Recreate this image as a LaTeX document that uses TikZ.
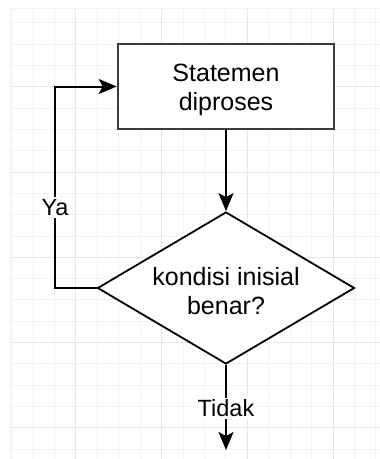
\documentclass[tikz,border=0pt]{standalone}
\usepackage{fontspec}
\setmainfont{Liberation Sans}
\usetikzlibrary{shapes.geometric,arrows.meta}
\definecolor{gridminor}{HTML}{F2F2F2}
\definecolor{gridmajor}{HTML}{E6E6E6}
\definecolor{boxline}{HTML}{3C3C3C}
\tikzset{
  flowbox/.style={rectangle, draw=boxline, line width=2.6pt, fill=white,
    minimum width=216pt, minimum height=85pt},
  decision/.style={diamond, aspect=1.69, inner sep=0pt, draw=black,
    line width=1.8pt, fill=white, minimum width=257pt, minimum height=152pt},
  shapetext/.style={align=center, inner sep=0pt,
    font=\fontsize{25}{29}\selectfont},
  flow/.style={draw=black, line width=2pt,
    -{Stealth[length=18pt, width=15pt, inset=4pt]}},
  branchlabel/.style={fill=white, inner sep=2pt,
    font=\fontsize{23.5}{26}\selectfont}
}
\begin{document}
\begin{tikzpicture}[x=1pt, y=-1pt]
  \useasboundingbox (0,0) rectangle (380,459);
  \fill[white] (0,0) rectangle (380,459);
  % background grid
  \foreach \k in {0,...,17}
    \draw[gridminor, line width=1pt] (11.7+21.42*\k, 8) -- (11.7+21.42*\k, 459);
  \foreach \k in {0,...,20}
    \draw[gridminor, line width=1pt] (10, 22.7+21.33*\k) -- (380, 22.7+21.33*\k);
  \foreach \k in {3,7,11,15}
    \draw[gridmajor, line width=1pt] (11.7+21.42*\k, 8) -- (11.7+21.42*\k, 459);
  \foreach \k in {3,7,11,15,19}
    \draw[gridmajor, line width=1pt] (10, 22.7+21.33*\k) -- (380, 22.7+21.33*\k);
  \draw[gridminor, line width=1pt] (10,459) -- (10,8) -- (380,8);

  % flowchart shapes and their texts
  \node[flowbox] (stmt) at (226,86.5) {};
  \node[shapetext] (stmttext) at (226,89.5) {Statemen\\diproses};
  \node[decision] (cond) at (226,288) {};
  \node[shapetext] (condtext) at (226,291) {kondisi inisial\\benar?};
  \coordinate (loop) at (55,288);
  \coordinate (exit) at (226,450);

  % connectors
  \draw[flow] (stmt.south) -- (cond.north);
  \draw[flow] (cond.west) -- (loop)
    -- node[branchlabel, pos=0.4] {Ya} (loop |- stmt.west) -- (stmt.west);
  \draw[flow] (cond.south) -- node[branchlabel, pos=0.51] {Tidak} (exit);
\end{tikzpicture}
\end{document}
